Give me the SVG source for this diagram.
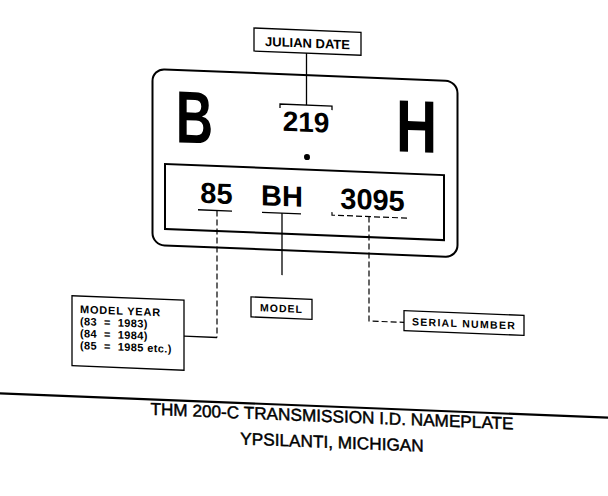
<svg xmlns="http://www.w3.org/2000/svg" width="608" height="496" viewBox="0 0 608 496">
<style>
.big{font-family:"Liberation Sans",Arial,sans-serif;font-weight:bold;font-size:74px;fill:#000;text-anchor:middle}
.num{font-family:"Liberation Sans",Arial,sans-serif;font-weight:bold;font-size:29px;fill:#000;text-anchor:middle}
.lbl{font-family:"Liberation Sans",Arial,sans-serif;font-weight:bold;font-size:10.5px;fill:#000}
.yr{font-size:11px;letter-spacing:0.8px}
.yv{font-size:11px;letter-spacing:0.4px}
.ttl{font-family:"Liberation Sans",Arial,sans-serif;font-size:17.2px;fill:#000;stroke:#000;stroke-width:0.45;text-anchor:middle}
.edge{fill:none;stroke:#000;stroke-width:2}
.box{fill:none;stroke:#000;stroke-width:1.3}
.ln{fill:none;stroke:#000;stroke-width:1.3}
.dash{fill:none;stroke:#000;stroke-width:1.2;stroke-dasharray:6 3}
</style>
<rect width="608" height="496" fill="#fff"/>
<g transform="matrix(1 0.04 0 1 0 -12.16)">
  <g id="plate">
    <rect class="edge" x="152.5" y="75" width="305" height="176" rx="12"/>
    <rect class="edge" x="165" y="169.5" width="279" height="65"/>
    <g transform="translate(194.5,147.4) scale(0.7,1)"><text class="big" x="0" y="0">B</text></g>
    <g transform="translate(416.5,147.5) scale(0.77,1)"><text class="big" x="0" y="0">H</text></g>
    <text class="num" x="306" y="131.7" style="font-size:28px">219</text>
    <circle cx="307" cy="157" r="3" fill="#000"/>
    <text class="num" x="216.5" y="207">85</text>
    <text class="num" x="282" y="207">BH</text>
    <text class="num" x="372.5" y="207">3095</text>
  </g>
  <g id="julian-date">
    <rect class="box" x="254" y="30" width="107" height="23"/>
    <text class="lbl" x="307.5" y="47.5" style="font-size:13px;text-anchor:middle">JULIAN DATE</text>
  </g>
  <g id="model-year">
    <rect class="box" x="72" y="305" width="112" height="70"/>
    <text class="lbl yr" x="80" y="322">MODEL YEAR</text>
    <text class="lbl yv" x="80" y="334" xml:space="preserve">(83  =  1983)</text>
    <text class="lbl yv" x="80" y="346" xml:space="preserve">(84  =  1984)</text>
    <text class="lbl yv" x="80" y="358" xml:space="preserve">(85  =  1985 etc.)</text>
  </g>
  <g id="model">
    <rect class="box" x="251" y="299" width="61" height="20"/>
    <text class="lbl" x="281.5" y="313" style="text-anchor:middle;letter-spacing:1px">MODEL</text>
  </g>
  <g id="serial-number">
    <rect class="box" x="404" y="306.6" width="120" height="20"/>
    <text class="lbl" x="464" y="321" style="text-anchor:middle;letter-spacing:1.3px">SERIAL NUMBER</text>
  </g>
  <g id="connectors">
    <path class="ln" d="M306.5,53 V105 M280,109 V105 H332 V109"/>
    <path class="ln" d="M198,214 H232 M262,214 H301"/>
    <path class="dash" d="M332,211 V214 H410"/>
    <path class="dash" d="M217,214 V341"/>
    <path class="ln" d="M217,341 H184"/>
    <path class="ln" d="M282,214 V276"/>
    <path class="dash" d="M369,214 V318.4 H404"/>
  </g>
  <g id="caption">
    <path d="M-30,405.5 H640" stroke="#000" stroke-width="2.2"/>
    <text class="ttl" x="332" y="421">THM 200-C  TRANSMISSION I.D. NAMEPLATE</text>
    <text class="ttl" x="332" y="447">YPSILANTI, MICHIGAN</text>
  </g>
</g>
</svg>
